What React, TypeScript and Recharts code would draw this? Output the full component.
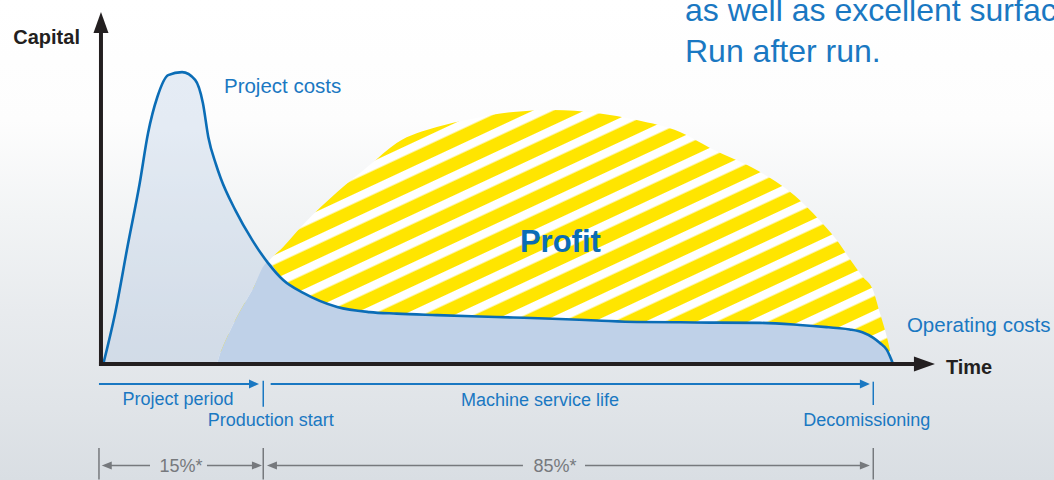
import React from "react";
import {
  Area,
  ComposedChart,
  Line,
  ReferenceDot,
  ReferenceLine,
  XAxis,
  YAxis,
} from "recharts";

// time: % of machine life (0 = project start, 100 = decommissioning); capital: relative units
const timePoints = [
  0.3, 1.8, 3.5, 5, 6.1, 7.3, 8.7, 10.5, 12.2, 13.2, 13.9, 14.9, 15.5, 17.4, 19.6, 21.6, 23.6, 26.2, 30.6, 34.8,
  38.3, 43.5, 48, 53.4, 58.5, 64.2, 69.4, 75, 78.9, 85.4, 90.5, 94, 95.3, 97, 98.7, 100, 100.9, 101.8, 102.6,
];
const costValues = [
  0, 16.5, 40, 60, 77, 89, 96.3, 97.3, 94.7, 87, 75.7, 66.5, 62, 51.3, 41.3, 33.8, 28, 23.7, 19, 17.3,
  16.8, 16.3, 15.9, 15.5, 15.1, 14.5, 14, 13.9, 13.8, 13.7, 13, 12.3, 12, 11.5, 10.5, 8.8, 7, 4.7, 0,
];
// outer edge of the striped profit dome
const profitValues = [
  0, 0, 0, 0, 0, 0, 0, 0, 0, 0, 0, 0, 4, 14.7, 24.7, 33.8, 39, 46.5, 57.3, 66.3,
  73.7, 79, 81.7, 84, 84.7, 83.7, 81.3, 77.3, 72, 64, 54.7, 45.3, 41.3, 35, 29, 24.7, 17, 9, 0,
];

const W = 1054;
const H = 480;
const X_DOMAIN: [number, number] = [-13.08, 123.45];
const Y_DOMAIN: [number, number] = [-38.67, 121.33];

const FONT = '"Liberation Sans", Arial, Helvetica, sans-serif';
const BLUE = "#1a78c2";
const LINE_BLUE = "#0b6db6";
const INK = "#231f20";
const GREY = "#76797d";

const data = timePoints.map((t, i) => ({
  t,
  cost: costValues[i],
  profit: profitValues[i],
  overlap: Math.min(costValues[i], profitValues[i]),
}));

type Seg = { x1: number; y1: number; x2: number; y2: number; color: string; width: number; head: boolean; hl?: number; hw?: number };

const segments: Seg[] = [
  // axes
  { x1: 0, y1: -0.67, x2: 0, y2: 117.3, color: INK, width: 4, head: true, hl: 21, hw: 15 },
  { x1: -0.26, y1: 0, x2: 108.03, y2: 0, color: INK, width: 4, head: true, hl: 21, hw: 15 },
  // blue period arrows
  { x1: -0.26, y1: -6.67, x2: 20.47, y2: -6.67, color: BLUE, width: 2.2, head: true, hl: 10, hw: 9 },
  { x1: 21.98, y1: -6.67, x2: 99.6, y2: -6.67, color: BLUE, width: 2.2, head: true, hl: 10, hw: 9 },
  { x1: 21.02, y1: -5.57, x2: 21.02, y2: -14.23, color: BLUE, width: 1.5, head: false },
  { x1: 100.04, y1: -5.9, x2: 100.04, y2: -13.67, color: BLUE, width: 1.5, head: false },
  // grey dimension lines
  { x1: -0.26, y1: -28, x2: -0.26, y2: -38.5, color: GREY, width: 1.5, head: false },
  { x1: 21.02, y1: -28, x2: 21.02, y2: -38.5, color: GREY, width: 1.5, head: false },
  { x1: 100.04, y1: -28, x2: 100.04, y2: -38.5, color: GREY, width: 1.5, head: false },
  { x1: 6.35, y1: -33.83, x2: 0.1, y2: -33.83, color: GREY, width: 1.6, head: true, hl: 10, hw: 8 },
  { x1: 13.73, y1: -33.83, x2: 20.85, y2: -33.83, color: GREY, width: 1.6, head: true, hl: 10, hw: 8 },
  { x1: 54.66, y1: -33.83, x2: 21.5, y2: -33.83, color: GREY, width: 1.6, head: true, hl: 10, hw: 8 },
  { x1: 62.7, y1: -33.83, x2: 99.6, y2: -33.83, color: GREY, width: 1.6, head: true, hl: 10, hw: 8 },
];

type Txt = { text: string; x: number; y: number; anchor: "start" | "middle" | "end"; size: number; bold?: boolean; color: string };

const texts: Txt[] = [
  { text: "Capital", x: -2.72, y: 106.67, anchor: "end", size: 20, bold: true, color: INK },
  { text: "Time", x: 109.45, y: -3.5, anchor: "start", size: 20, bold: true, color: INK },
  { text: "Project costs", x: 15.93, y: 90.33, anchor: "start", size: 20.5, color: BLUE },
  { text: "Profit", x: 54.27, y: 37.17, anchor: "start", size: 31, bold: true, color: LINE_BLUE },
  { text: "Operating costs", x: 104.4, y: 10.67, anchor: "start", size: 20.5, color: BLUE },
  { text: "as well as excellent surface finish", x: 75.65, y: 114.17, anchor: "start", size: 32, color: BLUE },
  { text: "Run after run.", x: 75.65, y: 100.83, anchor: "start", size: 32, color: BLUE },
  { text: "Project period", x: 9.97, y: -13.67, anchor: "middle", size: 18, color: BLUE },
  { text: "Production start", x: 22.0, y: -20.67, anchor: "middle", size: 18, color: BLUE },
  { text: "Machine service life", x: 56.87, y: -14, anchor: "middle", size: 18, color: BLUE },
  { text: "Decomissioning", x: 99.2, y: -20.83, anchor: "middle", size: 18, color: BLUE },
  { text: "15%*", x: 10.36, y: -36, anchor: "middle", size: 18, color: GREY },
  { text: "85%*", x: 58.8, y: -36, anchor: "middle", size: 18, color: GREY },
];

const arrowShape = (s: Seg) => (p: any) => {
  const { x1, y1, x2, y2 } = p;
  if (!s.head) {
    return <line x1={x1} y1={y1} x2={x2} y2={y2} stroke={s.color} strokeWidth={s.width} />;
  }
  const hl = s.hl ?? 10;
  const hw = s.hw ?? 8;
  const len = Math.hypot(x2 - x1, y2 - y1) || 1;
  const ux = (x2 - x1) / len;
  const uy = (y2 - y1) / len;
  const bx = x2 - ux * hl;
  const by = y2 - uy * hl;
  const pts = `${x2},${y2} ${bx - uy * (hw / 2)},${by + ux * (hw / 2)} ${bx + uy * (hw / 2)},${by - ux * (hw / 2)}`;
  return (
    <g>
      <line x1={x1} y1={y1} x2={bx + ux} y2={by + uy} stroke={s.color} strokeWidth={s.width} />
      <polygon points={pts} fill={s.color} />
    </g>
  );
};

const textShape = (t: Txt) => (p: any) => (
  <text
    x={p.cx}
    y={p.cy}
    textAnchor={t.anchor}
    fontSize={t.size}
    fontWeight={t.bold ? 700 : 400}
    fill={t.color}
    fontFamily={FONT}
  >
    {t.text}
  </text>
);

export default function App() {
  return (
    <div
      style={{
        position: "absolute",
        left: 0,
        top: 0,
        width: W,
        height: H,
        overflow: "hidden",
        background:
          "linear-gradient(to bottom, #ffffff 0%, #fdfdfd 25%, #f2f4f5 45%, #e8ebee 65%, #e0e4e8 85%, #d9dee3 100%)",
      }}
    >
      <ComposedChart width={W} height={H} data={data} margin={{ top: 0, right: 0, bottom: 0, left: 0 }}>
        <defs>
          <pattern
            id="profitStripes"
            patternUnits="userSpaceOnUse"
            width="21.7"
            height="21.7"
            patternTransform="rotate(-25)"
          >
            <rect width="21.7" height="21.7" fill="#ffe500" />
            <rect width="21.7" height="8.5" fill="#ffffff" />
          </pattern>
        </defs>
        <XAxis type="number" dataKey="t" domain={X_DOMAIN} allowDataOverflow hide />
        <YAxis type="number" domain={Y_DOMAIN} allowDataOverflow hide />
        <Area
          type="monotone"
          dataKey="cost"
          baseValue={0}
          stroke="none"
          fill="#9db8dc"
          fillOpacity={0.25}
          dot={false}
          activeDot={false}
          isAnimationActive={false}
        />
        <Area
          type="monotone"
          dataKey="profit"
          baseValue={0}
          stroke="none"
          fill="url(#profitStripes)"
          fillOpacity={1}
          dot={false}
          activeDot={false}
          isAnimationActive={false}
        />
        <Area
          type="monotone"
          dataKey="overlap"
          baseValue={0}
          stroke="none"
          fill="#bfd1e8"
          fillOpacity={1}
          dot={false}
          activeDot={false}
          isAnimationActive={false}
        />
        <Line
          type="monotone"
          dataKey="cost"
          stroke={LINE_BLUE}
          strokeWidth={2.6}
          dot={false}
          activeDot={false}
          isAnimationActive={false}
        />
        {segments.map((s, i) => (
          <ReferenceLine
            key={`seg-${i}`}
            segment={[
              { x: s.x1, y: s.y1 },
              { x: s.x2, y: s.y2 },
            ]}
            ifOverflow="visible"
            shape={arrowShape(s)}
          />
        ))}
        {texts.map((t, i) => (
          <ReferenceDot
            key={`txt-${i}`}
            x={t.x}
            y={t.y}
            r={0}
            fill="none"
            stroke="none"
            ifOverflow="visible"
            shape={textShape(t)}
          />
        ))}
      </ComposedChart>
    </div>
  );
}
